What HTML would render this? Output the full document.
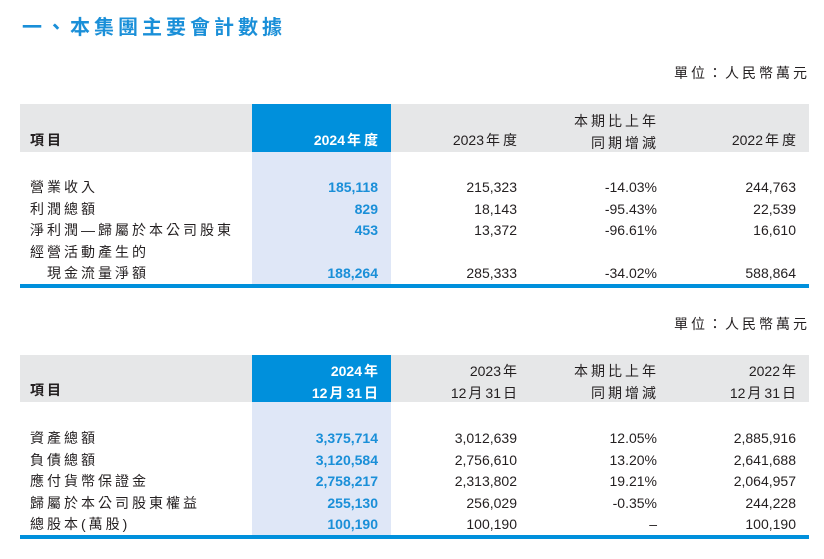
<!DOCTYPE html>
<html><head><meta charset="utf-8">
<style>
body{margin:0;width:824px;height:559px;background:#fff;position:relative;overflow:hidden;font-family:"Liberation Sans","Noto Sans CJK TC",sans-serif;color:#231f20}
.a{position:absolute;white-space:nowrap;font-size:14px;line-height:16px}
.r{text-align:right}
.b{font-weight:bold}
.blue{color:#1a8fd8}
.w{color:#fff}
.ls{letter-spacing:3px}
.box{position:absolute}
.c{letter-spacing:3px;margin-left:2px}
</style></head><body>
<div class="a blue" style="left:22px;top:15px;font-size:20px;line-height:26px;letter-spacing:4px;font-weight:600">一、本集團主要會計數據</div>

<div class="a r ls" style="right:14px;top:65px;width:200px">單位：人民幣萬元</div>

<div class="box" style="left:20px;top:104px;width:789px;height:48px;background:#e6e7e8"></div>
<div class="box" style="left:252px;top:152px;width:139px;height:132px;background:#dfe7f7"></div>
<div class="box" style="left:252px;top:104px;width:139px;height:48px;background:#0090dc"></div>
<div class="box" style="left:20px;top:284px;width:789px;height:4px;background:#0090dc"></div>

<div class="a b ls" style="left:30px;top:132px">項目</div>
<div class="a b w r" style="right:443px;top:132px">2024<span class="c">年度</span></div>
<div class="a r" style="right:304px;top:132px">2023<span class="c">年度</span></div>
<div class="a r ls" style="right:165px;top:110px;line-height:22px">本期比上年<br>同期增減</div>
<div class="a r" style="right:25px;top:132px">2022<span class="c">年度</span></div>

<div id="t1"></div>

<div class="a r ls" style="right:14px;top:316px;width:200px">單位：人民幣萬元</div>

<div class="box" style="left:20px;top:355px;width:789px;height:47px;background:#e6e7e8"></div>
<div class="box" style="left:252px;top:402px;width:139px;height:133px;background:#dfe7f7"></div>
<div class="box" style="left:252px;top:355px;width:139px;height:47px;background:#0090dc"></div>
<div class="box" style="left:20px;top:535px;width:789px;height:4px;background:#0090dc"></div>

<div class="a b ls" style="left:30px;top:382px">項目</div>
<div class="a b w r" style="right:443px;top:360px;line-height:22px">2024<span class="c">年</span><br>12<span class="c">月</span>31<span class="c">日</span></div>
<div class="a r" style="right:304px;top:360px;line-height:22px">2023<span class="c">年</span><br>12<span class="c">月</span>31<span class="c">日</span></div>
<div class="a r ls" style="right:165px;top:360px;line-height:22px">本期比上年<br>同期增減</div>
<div class="a r" style="right:25px;top:360px;line-height:22px">2022<span class="c">年</span><br>12<span class="c">月</span>31<span class="c">日</span></div>

<div id="t2"></div>

<script>
const t1Labels=["營業收入","利潤總額","淨利潤—歸屬於本公司股東","經營活動產生的","　現金流量淨額"];
const t1Y2024=["185,118","829","453","","188,264"];
const t1Y2023=["215,323","18,143","13,372","","285,333"];
const t1Change=["-14.03%","-95.43%","-96.61%","","-34.02%"];
const t1Y2022=["244,763","22,539","16,610","","588,864"];
const t2Labels=["資產總額","負債總額","應付貨幣保證金","歸屬於本公司股東權益","總股本(萬股)"];
const t2Y2024=["3,375,714","3,120,584","2,758,217","255,130","100,190"];
const t2Y2023=["3,012,639","2,756,610","2,313,802","256,029","100,190"];
const t2Change=["12.05%","13.20%","19.21%","-0.35%","–"];
const t2Y2022=["2,885,916","2,641,688","2,064,957","244,228","100,190"];

function cell(parent,text,cls,style,name){
  const d=document.createElement('div');
  d.className='a '+cls;
  d.setAttribute('style',style);
  d.textContent=text;
  
  
  parent.appendChild(d);
}
function build(id,top,labels,a,b,c,e,pfx){
  const p=document.getElementById(id);
  labels.forEach((l,i)=>{
    const y=top+i*21.5;
    cell(p,l,'ls','left:30px;top:'+y+'px',pfx+'-row-label');
    cell(p,a[i],'b blue r','right:446px;top:'+y+'px',pfx+'-value-2024');
    cell(p,b[i],'r','right:307px;top:'+y+'px',pfx+'-value-2023');
    cell(p,c[i],'r','right:167px;top:'+y+'px',pfx+'-change');
    cell(p,e[i],'r','right:28px;top:'+y+'px',pfx+'-value-2022');
  });
}
build('t1',179,t1Labels,t1Y2024,t1Y2023,t1Change,t1Y2022,'table1');
build('t2',430,t2Labels,t2Y2024,t2Y2023,t2Change,t2Y2022,'table2');
</script>
</body></html>
